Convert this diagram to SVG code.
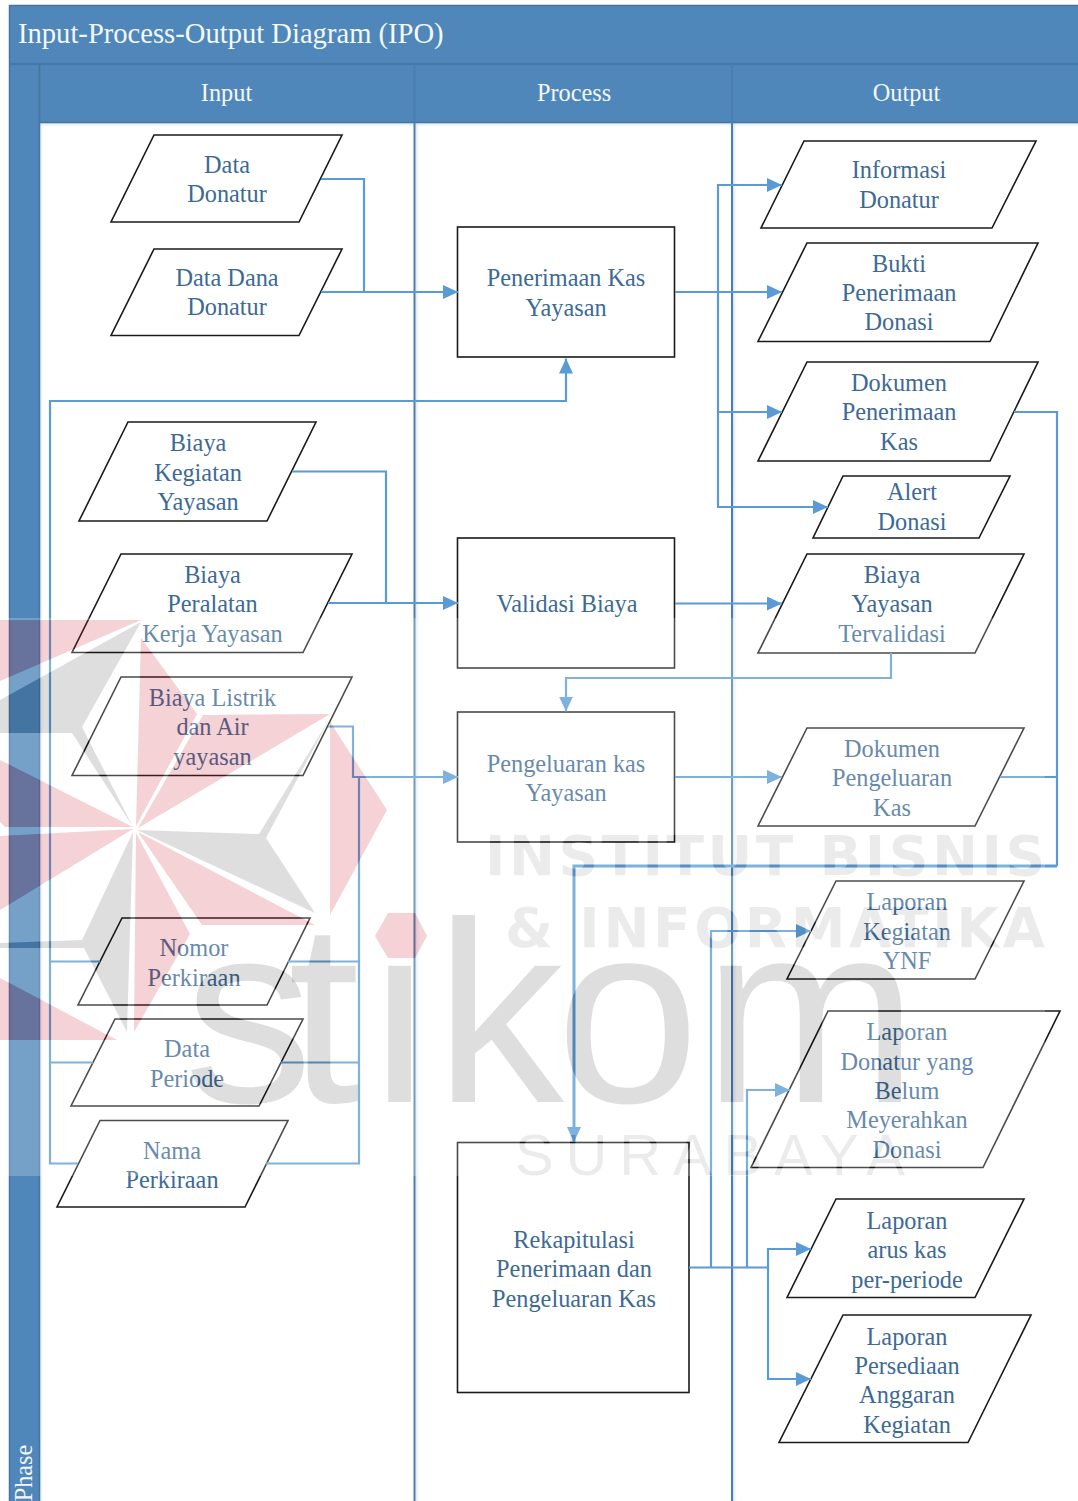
<svg xmlns="http://www.w3.org/2000/svg" xmlns:xlink="http://www.w3.org/1999/xlink" width="1078" height="1501" viewBox="0 0 1078 1501">
<style>
.band{fill:#4f87ba}
.edge{stroke:#44749f;stroke-width:1.5;fill:none}
.div{stroke:#4a7eb0;stroke-width:2;fill:none}
.hd{font:24.300px "Liberation Serif","Times New Roman",serif;fill:#f4f8fc;text-anchor:middle}
.ti{font:28.600px "Liberation Serif","Times New Roman",serif;fill:#f4f8fc}
.n polygon,.n rect{fill:#fff;stroke:#1a1a1a;stroke-width:1.6}
.n text{font:24.300px "Liberation Serif","Times New Roman",serif;fill:#3d6a94;text-anchor:middle;transform:translateY(.7px)}
#connectors path{fill:none;stroke:#5b9bd5;stroke-width:2.200}
#connectors .a{marker-end:url(#arr)}
#connectors .thick{stroke-width:3}
.wmb{font-family:"DejaVu Sans",Verdana,sans-serif;font-weight:700}
.wmr{font-family:"Liberation Sans",Arial,sans-serif}
</style>
<defs>
<marker id="arr" markerUnits="userSpaceOnUse" markerWidth="16" markerHeight="16" refX="15" refY="7" orient="auto"><path d="M0,0L15,7L0,14Z" fill="#5b9bd5"/></marker>
<linearGradient id="shH" x1="0" y1="0" x2="0" y2="1"><stop offset="0" stop-color="#9dbbd8" stop-opacity=".6"/><stop offset="1" stop-color="#fff" stop-opacity="0"/></linearGradient>
<linearGradient id="shV" x1="0" y1="0" x2="1" y2="0"><stop offset="0" stop-color="#9dbbd8" stop-opacity=".4"/><stop offset="1" stop-color="#fff" stop-opacity="0"/></linearGradient>
<g id="wmRed">
<polygon points="0,620 141,620 0,681"/>
<polygon points="141,638 197,714 136,826"/>
<polygon points="203,715 330,714 138,828"/>
<polygon points="330,722 387,810 330,915"/>
<polygon points="138,832 315,925 202,925"/>
<polygon points="136,833 190,934 134,1032"/>
<polygon points="0,836 133,829 0,910"/>
<polygon points="0,760 133,827 5,827 0,822"/>
<polygon points="0,978 117,1040 0,1040"/>
<polygon points="388,913 415,913 427,936 415,958 388,958 375,936"/>
</g>
<g id="wmGray">
<polygon points="141,622 0,700 0,733 72,733 133,827 82,727"/>
<polygon points="330,718 259,834 137,830 315,913 266,838"/>
<polygon points="133,832 82,940 0,943 0,948 84,948 127,1032"/>
</g>
<text id="wmWord" class="wmr" x="184 288 371 435 556 703" y="1102" font-size="258">stikom</text>
<g id="wmText">
<text class="wmb" x="485" y="875" font-size="55" textLength="560">INSTITUT BISNIS</text>
<text class="wmb" x="505" y="947" font-size="55" textLength="540">&amp; INFORMATIKA</text>
<text class="wmr" x="515" y="1175" font-size="58" textLength="390">SURABAYA</text>
</g>
<mask id="noDot" maskUnits="userSpaceOnUse" x="0" y="600" width="1078" height="700">
<rect x="0" y="600" width="1078" height="700" fill="#fff"/>
<polygon points="388,913 415,913 427,936 415,958 388,958 375,936" fill="#000"/>
</mask>
<mask id="wmMask" maskUnits="userSpaceOnUse" x="0" y="618" width="1045" height="558">
<rect x="0" y="618" width="1045" height="558" fill="#fff"/>
<use href="#wmRed" fill="#000"/><use href="#wmGray" fill="#000"/><use href="#wmWord" fill="#000"/><use href="#wmText" fill="#000"/>
</mask>
</defs>
<rect width="1078" height="1501" fill="#fff"/>
<g id="swimlane">
<rect class="band" x="9.5" y="5" width="1068.5" height="59"/>
<rect class="band" x="9.5" y="64" width="1068.5" height="58"/>
<rect class="band" x="9.5" y="64" width="30" height="1437"/>
<rect x="39.5" y="122" width="1038.5" height="6" fill="url(#shH)"/>
<rect x="39.5" y="122" width="5" height="1379" fill="url(#shV)"/>
<rect x="415.5" y="122" width="5" height="1379" fill="url(#shV)"/>
<rect x="733" y="122" width="5" height="1379" fill="url(#shV)"/>
<path class="edge" d="M1078,5.5H9.5V1501"/>
<path class="edge" d="M9.5,64H1078M39.5,64V1501M39.5,122.500H1078"/>
<path class="div" d="M414.500,64V1501M732,64V1501"/>
<text class="ti" x="18" y="43">Input-Process-Output Diagram (IPO)</text>
<text class="hd" x="226.500" y="100.700">Input</text>
<text class="hd" x="574" y="100.700">Process</text>
<text class="hd" x="906.500" y="100.700">Output</text>
<text class="hd" transform="translate(32,1473) rotate(-90)">Phase</text>
</g>
<g id="nodes">
<g class="n" id="data-donatur"><polygon points="154,135 342,135 299,222 111,222"/><text x="227" y="172">Data</text><text x="227" y="201">Donatur</text></g>
<g class="n" id="data-dana"><polygon points="154,249 342,249 299,335.500 111,335.500"/><text x="227" y="285">Data Dana</text><text x="227" y="314">Donatur</text></g>
<g class="n" id="biaya-kegiatan"><polygon points="128,422 316,422 267,521 79,521"/><text x="198" y="450">Biaya</text><text x="198" y="480">Kegiatan</text><text x="198" y="509">Yayasan</text></g>
<g class="n" id="biaya-peralatan"><polygon points="121,554 352,554 303,652.500 72,652.500"/><text x="212.500" y="582">Biaya</text><text x="212.500" y="611">Peralatan</text><text x="212.500" y="641">Kerja Yayasan</text></g>
<g class="n" id="biaya-listrik"><polygon points="121,677 352,677 303,775.500 72,775.500"/><text x="212.500" y="705">Biaya Listrik</text><text x="212.500" y="734">dan Air</text><text x="212.500" y="764">yayasan</text></g>
<g class="n" id="nomor-perkiraan"><polygon points="122,918 310,918 267,1005 78,1005"/><text x="194" y="955">Nomor</text><text x="194" y="985">Perkiraan</text></g>
<g class="n" id="data-periode"><polygon points="115,1019 303,1019 259,1106 71,1106"/><text x="187" y="1056">Data</text><text x="187" y="1086">Periode</text></g>
<g class="n" id="nama-perkiraan"><polygon points="100,1120.500 288,1120.500 245,1207 57,1207"/><text x="172" y="1158">Nama</text><text x="172" y="1187">Perkiraan</text></g>
<g class="n" id="penerimaan-kas"><rect x="457.500" y="227" width="217" height="130"/><text x="566" y="285">Penerimaan Kas</text><text x="566" y="315">Yayasan</text></g>
<g class="n" id="validasi-biaya"><rect x="457.500" y="538" width="217" height="130"/><text x="567" y="611">Validasi Biaya</text></g>
<g class="n" id="pengeluaran-kas"><rect x="457.500" y="712" width="217" height="130"/><text x="566" y="771">Pengeluaran kas</text><text x="566" y="800">Yayasan</text></g>
<g class="n" id="rekapitulasi"><rect x="457.500" y="1142.500" width="231.500" height="250"/><text x="574" y="1247">Rekapitulasi</text><text x="574" y="1276">Penerimaan dan</text><text x="574" y="1306">Pengeluaran Kas</text></g>
<g class="n" id="informasi-donatur"><polygon points="804,141 1036,141 992,228 761,228"/><text x="899" y="177">Informasi</text><text x="899" y="207">Donatur</text></g>
<g class="n" id="bukti-penerimaan"><polygon points="807,243 1038,243 990,341.500 758,341.500"/><text x="899" y="271">Bukti</text><text x="899" y="300">Penerimaan</text><text x="899" y="329">Donasi</text></g>
<g class="n" id="dokumen-penerimaan"><polygon points="807,362 1038,362 990,461 758,461"/><text x="899" y="390">Dokumen</text><text x="899" y="419">Penerimaan</text><text x="899" y="449">Kas</text></g>
<g class="n" id="alert-donasi"><polygon points="843,476 1010,476 979,538 813,538"/><text x="912" y="499">Alert</text><text x="912" y="529">Donasi</text></g>
<g class="n" id="biaya-tervalidasi"><polygon points="807,554 1024,554 975,653 758,653"/><text x="892" y="582">Biaya</text><text x="892" y="611">Yayasan</text><text x="892" y="641">Tervalidasi</text></g>
<g class="n" id="dokumen-pengeluaran"><polygon points="807,728 1024,728 975,826 758,826"/><text x="892" y="756">Dokumen</text><text x="892" y="785">Pengeluaran</text><text x="892" y="815">Kas</text></g>
<g class="n" id="laporan-kegiatan"><polygon points="836,881 1024,881 975,979 787,979"/><text x="907" y="909">Laporan</text><text x="907" y="939">Kegiatan</text><text x="907" y="968">YNF</text></g>
<g class="n" id="laporan-donatur"><polygon points="828,1011 1060,1011 983,1167.500 751,1167.500"/><text x="907" y="1039">Laporan</text><text x="907" y="1069">Donatur yang</text><text x="907" y="1098">Belum</text><text x="907" y="1127">Meyerahkan</text><text x="907" y="1157">Donasi</text></g>
<g class="n" id="laporan-arus"><polygon points="836,1199 1024,1199 975,1297.500 787,1297.500"/><text x="907" y="1228">Laporan</text><text x="907" y="1257">arus kas</text><text x="907" y="1287">per-periode</text></g>
<g class="n" id="laporan-persediaan"><polygon points="843,1315 1031,1315 968,1442.500 779,1442.500"/><text x="907" y="1344">Laporan</text><text x="907" y="1373">Persediaan</text><text x="907" y="1402">Anggaran</text><text x="907" y="1432">Kegiatan</text></g>
</g>
<g id="connectors">
<path d="M321,179H364V292"/>
<path class="a" d="M321,292H458"/>
<path class="a" d="M78,1163.500H50V401H566V358.500"/>
<path d="M100,961.500H50"/>
<path d="M93,1062.500H50"/>
<path d="M292,471.500H386V603"/>
<path class="a" d="M328,603H458"/>
<path class="a" d="M328,726.500H353V777H458"/>
<path d="M288,961.500H359"/>
<path d="M281,1062.500H359"/>
<path d="M266,1163.500H359V777"/>
<path class="a" d="M675,292H782"/>
<path class="a" d="M718,292V185H782"/>
<path class="a" d="M718,292V412H782"/>
<path class="a" d="M718,412V507H828"/>
<path class="a" d="M675,603.500H782"/>
<path class="a" d="M891,653V678H566V711.500"/>
<path class="a" d="M675,777H782"/>
<path d="M1014,412H1057V866"/>
<path class="a thick" d="M1057,866H574V1142"/>
<path d="M1000,777H1057"/>
<path class="a" d="M689,1267.500H768V1249H811"/>
<path class="a" d="M768,1267.500V1379H811"/>
<path class="a" d="M711,1267.500V931H811"/>
<path class="a" d="M747,1267.500V1090H790"/>
</g>
<g id="watermark">
<rect x="0" y="618" width="1045" height="558" fill="#fff" fill-opacity=".22" mask="url(#wmMask)"/>
<use href="#wmRed" fill="#c8202f" fill-opacity=".2"/>
<use href="#wmGray" fill="#000" fill-opacity=".13"/>
<use href="#wmWord" fill="#000" fill-opacity=".13" mask="url(#noDot)"/>
<use href="#wmText" fill="#000" fill-opacity=".08"/>
</g>
</svg>
